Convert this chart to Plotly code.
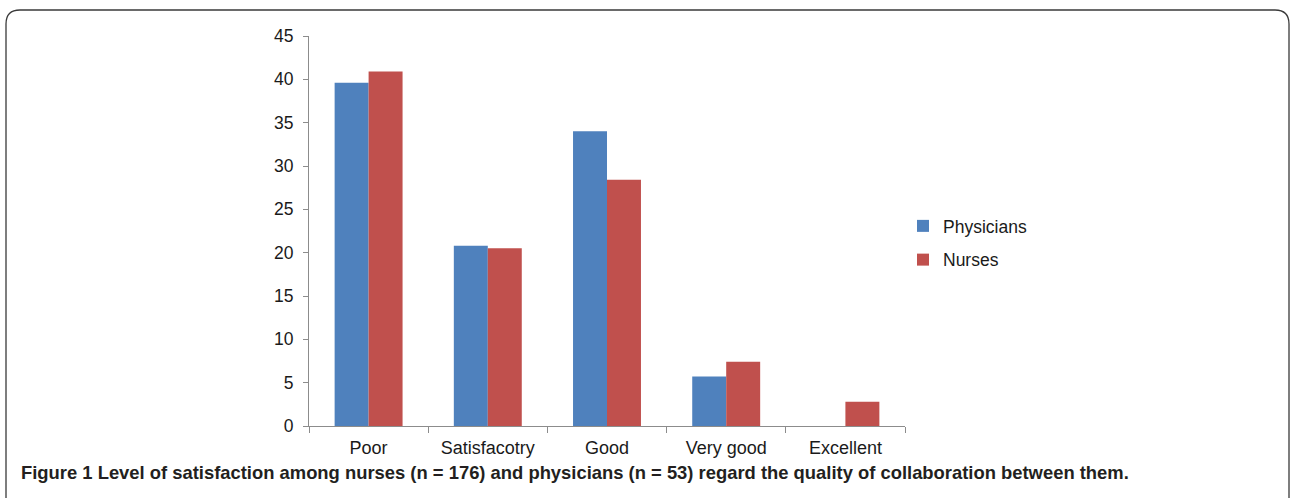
import plotly.graph_objects as go

categories = ["Poor", "Satisfacotry", "Good", "Very good", "Excellent"]
physicians = [39.6, 20.8, 34.0, 5.7, 0.0]
nurses = [40.9, 20.5, 28.4, 7.4, 2.8]
y_ticks = [0, 5, 10, 15, 20, 25, 30, 35, 40, 45]
caption = ("<b>Figure 1 Level of satisfaction among nurses (n = 176) and physicians "
           "(n = 53) regard the quality of collaboration between them.</b>")

W, H = 1292, 498
L, R, T, B = 309, 905, 36, 426  # plot area in pixels

def px_x(p):
    return (p - L) / (R - L)

def px_y(p):
    return (B - p) / (B - T)

fig = go.Figure()
fig.add_trace(go.Bar(name="Physicians", x=categories, y=physicians,
                     legendgroup="a",
                     marker=dict(color="#4F81BD", line=dict(width=0))))
fig.add_trace(go.Bar(name="Nurses", x=categories, y=nurses,
                     legendgroup="b",
                     marker=dict(color="#C0504D", line=dict(width=0))))

# rounded frame
x0, x1, y0, y1 = 6, 1289, 10, 520
r = 14
def P(x, y):
    return f"{px_x(x):.5f},{px_y(y):.5f}"
path = (f"M {P(x0, y0 + r)} Q {P(x0, y0)} {P(x0 + r, y0)} "
        f"L {P(x1 - r, y0)} Q {P(x1, y0)} {P(x1, y0 + r)} "
        f"L {P(x1, y1)} L {P(x0, y1)} Z")
fig.add_shape(type="path", path=path, xref="paper", yref="paper",
              line=dict(color="#3a3a3a", width=1.3), layer="below")

fig.add_annotation(text=caption, xref="paper", yref="paper",
                   x=px_x(19), y=px_y(472), xanchor="left", yanchor="middle",
                   showarrow=False,
                   font=dict(family="Liberation Sans", size=18.4, color="#231f20"))

fig.update_layout(
    width=W, height=H,
    margin=dict(l=L, r=W - R, t=T, b=H - B, autoexpand=False),
    paper_bgcolor="white", plot_bgcolor="white",
    barmode="group", bargap=0.43, bargroupgap=0,
    font=dict(family="Liberation Sans", size=17, color="#1a1a1a"),
    showlegend=True,
    legend=dict(x=px_x(903), y=px_y(243), xanchor="left", yanchor="middle",
                font=dict(size=17.5, color="#1a1a1a"), itemwidth=30,
                traceorder="grouped", tracegroupgap=8,
                bgcolor="rgba(0,0,0,0)"),
    xaxis=dict(showline=True, linecolor="#8c8c8c", linewidth=1,
               ticks="outside", tickson="boundaries", ticklen=6,
               tickcolor="#8c8c8c", showgrid=False, zeroline=False,
               ticklabelstandoff=5, tickfont=dict(size=18)),
    yaxis=dict(range=[0, 45], tickvals=y_ticks, showline=True,
               linecolor="#8c8c8c", linewidth=1, ticks="outside", ticklen=5,
               tickcolor="#8c8c8c", showgrid=False, zeroline=False,
               ticklabelstandoff=6, tickfont=dict(size=17.5)),
)

fig.write_html("out.html", config={"displayModeBar": False},
               post_script="document.body.style.margin='0';"
                           "document.body.style.overflow='hidden';")
